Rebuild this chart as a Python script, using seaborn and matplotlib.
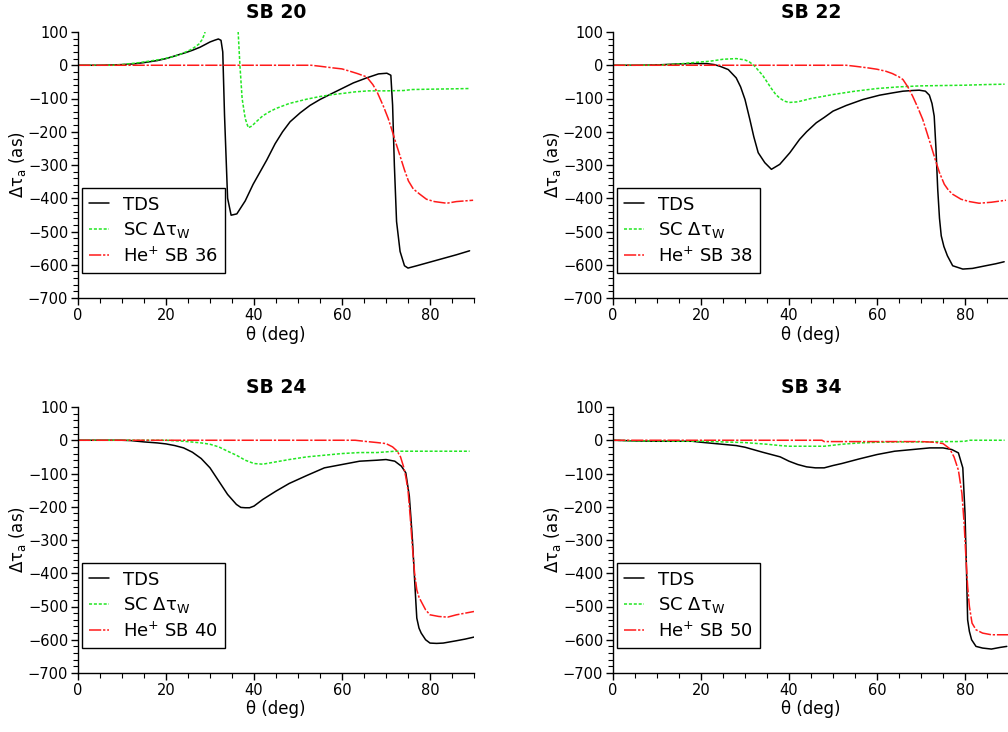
import numpy as np
import pandas as pd
import matplotlib
matplotlib.use("Agg")
import matplotlib.pyplot as plt
from matplotlib.ticker import MultipleLocator
import seaborn as sns

# ---- data (theta in deg, delay in as) ----
titles = ['SB 20', 'SB 22', 'SB 24', 'SB 34']
he_labels = ['He$^{+}$ SB 36', 'He$^{+}$ SB 38', 'He$^{+}$ SB 40', 'He$^{+}$ SB 50']

# SB 20
tds20_x = [0, 5, 8, 10, 12.6, 15, 18, 20, 22, 24.7, 26, 27.7, 29, 30, 31, 31.9, 32.5, 32.9, 33.3, 34, 34.8, 36.1, 38,
           39.8, 41.5, 42.9, 44.8, 46.5, 48.2, 50.5, 52.7, 55, 58, 60.3, 62.6, 65.6, 68.3, 70.2, 71.1, 71.5, 71.9, 72.4,
           73.2, 74.2, 75, 77, 80, 83, 86, 89]
tds20_y = [0, 0, 1, 2, 4, 8, 14, 20, 28, 39, 45, 54, 63, 70, 75, 79, 75, 40, -150, -400, -451, -447, -408,
           -358, -318, -285, -236, -200, -170, -143, -121, -103, -83, -68, -53, -38, -26, -24, -30, -120, -300, -470,
           -560, -603, -610, -603, -592, -581, -570, -558]
sc20_x = [0, 5, 8, 10, 14, 18, 20, 22, 24, 25.5, 26.5, 27.5, 28.2, 28.8, 29.3, 35.9, 36.4, 36.8, 37.3, 38, 38.7, 39.5,
          40.5, 42, 43.5, 45, 48, 52, 55, 58, 60, 63, 66, 70, 74, 76, 80, 85, 89]
sc20_y = [0, 0, 0, 2, 8, 16, 21, 27, 37, 46, 54, 64, 77, 95, 150, 150, 100, 0, -100, -160, -188, -183,
          -170, -152, -140, -130, -115, -102, -94, -88, -85, -80, -77, -77, -76, -73, -72, -71, -70]
he20_x = [0, 10, 20, 30, 40, 50, 53, 55, 58, 60, 61.8, 63.5, 65.6, 67, 67.9, 69.4, 70.5, 71.3, 72.2, 73.2, 74.2, 75.1,
          76.2, 77.7, 79.2, 81, 83.8, 86, 89.8]
he20_y = [0, 0, 0, 0, 0, 0, 0, -3, -8, -11, -18, -25, -35, -58, -78, -123, -160, -193, -232, -273, -315, -348,
          -372, -388, -403, -410, -415, -410, -406]

# SB 22
tds22_x = [0, 5, 10, 15, 18, 21.3, 23, 24.3, 26.2, 28, 29, 30, 31.1, 32, 33, 34.5, 36, 37.9, 40.2, 42.4, 44, 46.2, 48,
           50, 53, 56.8, 60.6, 63.6, 65.9, 68, 69.6, 71, 71.9, 72.5, 73, 73.4, 73.8, 74.2, 74.6, 75.2, 76, 77.2, 79.5,
           81.7, 84.7, 87, 88.9]
tds22_y = [0, 0, 1, 4, 5, 5, 2, -3, -13, -38, -65, -103, -163, -215, -263, -293, -313, -298, -263, -223, -200, -173,
           -157, -138, -121, -103, -90, -83, -78, -76, -75, -78, -90, -115, -153, -250, -373, -460, -513, -545, -573,
           -603, -613, -611, -603, -597, -591]
sc22_x = [0, 5, 10, 15, 20, 22, 25, 28, 30, 31, 32, 33, 34, 35, 36, 37, 38, 39, 40, 42, 45, 48, 50, 55, 60, 65, 70, 75,
          80, 85, 89]
sc22_y = [0, 0, 0, 4, 10, 12, 18, 20, 16, 10, 0, -15, -30, -50, -70, -88, -100, -108, -112, -110, -100, -93, -88,
          -78, -70, -65, -62, -61, -60, -58, -57]
he22_x = [0, 10, 20, 30, 40, 50, 53, 55, 58, 60, 62, 63.5, 65, 65.9, 67, 68.1, 69.2, 70.4, 71.4, 72.3, 73.2, 74.2,
          75.3, 76.2, 77.2, 79.1, 81, 83.2, 86, 89.3]
he22_y = [0, 0, 0, 0, 0, 0, 0, -3, -8, -12, -18, -25, -35, -43, -65, -93, -125, -163, -205, -243, -282, -323,
          -358, -375, -388, -403, -410, -415, -412, -406]

# SB 24
tds24_x = [0, 5, 10, 12, 15, 18, 20, 22, 24, 26, 28, 30, 32, 34, 36, 37, 38, 39, 40, 42, 45, 48, 52, 56, 60, 64, 68,
           70, 72, 73.5, 74.5, 75.3, 75.7, 76, 76.3, 76.5, 76.8, 77, 77.5, 78, 79, 80, 81.5, 83, 86, 88, 90]
tds24_y = [0, 0, 0, -1, -5, -8, -11, -16, -23, -36, -55, -83, -123, -163, -193, -202, -203, -203, -198, -178,
           -153, -130, -106, -83, -73, -63, -60, -58, -63, -78, -98, -168, -240, -298, -370, -419, -490, -535,
           -565, -580, -600, -610, -611, -610, -603, -598, -592]
sc24_x = [0, 5, 10, 15, 20, 24, 28, 30, 32, 34, 36, 38, 40, 42, 45, 48, 52, 56, 60, 64, 68, 72, 76, 80, 85, 89]
sc24_y = [0, 0, 0, 0, 0, -3, -8, -12, -20, -33, -45, -60, -70, -72, -65, -58, -50, -45, -40, -37, -37, -33, -33,
          -33, -33, -33]
he24_x = [0, 10, 20, 30, 40, 50, 60, 63, 65, 68, 70, 71.5, 72.5, 73.3, 74, 74.5, 75, 75.5, 76, 76.5, 77, 77.5, 78, 79,
          80, 82, 84, 86, 88, 90]
he24_y = [0, 0, 0, 0, 0, 0, 0, 0, -3, -7, -10, -20, -32, -50, -80, -110, -150, -230, -320, -400, -450, -472,
          -485, -510, -525, -530, -532, -525, -520, -515]

# SB 34
tds34_x = [0, 5, 10, 15, 18, 20, 24, 28, 30, 34, 38, 40, 42, 44, 46, 48, 50, 52, 56, 60, 64, 68, 72, 75, 77, 78.5,
           79.5, 80, 80.3, 80.6, 81, 81.5, 82.5, 84, 86, 88, 89.5]
tds34_y = [0, -2, -3, -3, -3, -6, -11, -16, -21, -36, -50, -63, -73, -80, -83, -83, -76, -70, -56, -43, -33, -28,
           -23, -23, -28, -38, -83, -219, -369, -540, -575, -600, -620, -625, -628, -623, -620]
sc34_x = [0, 5, 10, 15, 20, 25, 30, 35, 38, 40, 45, 48, 50, 52, 56, 60, 65, 70, 75, 78, 80, 81, 85, 89]
sc34_y = [0, -2, -2, -3, -3, -5, -7, -12, -16, -18, -18, -18, -15, -12, -8, -6, -5, -5, -4, -4, -3, 0, 0, 0]
he34_x = [0, 10, 20, 30, 40, 46, 47.5, 48, 55, 60, 70, 73, 75, 76.5, 77.5, 78.5, 79.3, 79.8, 80.2, 80.6, 81, 81.6,
          82.5, 84, 86, 90]
he34_y = [0, 0, 0, 0, 0, 0, 0, -4, -4, -4, -4, -6, -10, -25, -50, -90, -160, -250, -350, -440, -500, -550, -570,
          -580, -585, -585]

panels = [
    (tds20_x, tds20_y, sc20_x, sc20_y, he20_x, he20_y),
    (tds22_x, tds22_y, sc22_x, sc22_y, he22_x, he22_y),
    (tds24_x, tds24_y, sc24_x, sc24_y, he24_x, he24_y),
    (tds34_x, tds34_y, sc34_x, sc34_y, he34_x, he34_y),
]

sns.set_style("ticks")
plt.rcParams['font.family'] = ['DejaVu Sans']
plt.rcParams['mathtext.fontset'] = 'dejavusans'
plt.rcParams['text.color'] = 'black'
plt.rcParams['axes.labelcolor'] = 'black'
plt.rcParams['xtick.color'] = 'black'
plt.rcParams['ytick.color'] = 'black'

fig = plt.figure(figsize=(10.08, 7.32), dpi=100)
W, H = 1008, 732
boxes = [(78, 32), (613, 32), (78, 407), (613, 407)]  # left, top in px

for i, (bx, by) in enumerate(boxes):
    ax = fig.add_axes([bx / W, 1 - (by + 266) / H, 396 / W, 266 / H])
    tx, ty, sx, sy, hx, hy = panels[i]
    sns.lineplot(x=tx, y=ty, ax=ax, color='black', lw=1.1, sort=False, estimator=None, label='TDS')
    sns.lineplot(x=sx, y=sy, ax=ax, color='#22e622', lw=1.1, sort=False, estimator=None,
                 linestyle=(0, (2, 1.2)), label='SC $\\mathregular{\\Delta\\tau_W}$')
    sns.lineplot(x=hx, y=hy, ax=ax, color='#ff1a1a', lw=1.1, sort=False, estimator=None,
                 linestyle=(0, (8, 1.2, 1.5, 1.2)), label=he_labels[i])
    ax.set_xlim(0, 90)
    ax.set_ylim(-700, 100)
    ax.xaxis.set_major_locator(MultipleLocator(20))
    ax.xaxis.set_minor_locator(MultipleLocator(5))
    ax.yaxis.set_major_locator(MultipleLocator(100))
    ax.yaxis.set_minor_locator(MultipleLocator(20))
    ax.tick_params(which='major', length=5, width=1, labelsize=10.5, colors='black', pad=2)
    ax.tick_params(which='minor', length=3.5, width=0.8)
    sns.despine(ax=ax)
    for sp in ['left', 'bottom']:
        ax.spines[sp].set_color('black')
        ax.spines[sp].set_linewidth(1)
    ax.set_xlabel('θ (deg)', fontsize=12, labelpad=2)
    ax.set_ylabel('$\\mathregular{\\Delta\\tau_a}$ (as)', fontsize=12, labelpad=0)
    ax.set_title(titles[i], fontsize=13.5, fontweight='bold', pad=10, color='black')
    leg = ax.legend(loc='lower left', bbox_to_anchor=(0.01, 0.095), fontsize=13, frameon=True, fancybox=False,
                    handlelength=1.1, handletextpad=0.8, borderpad=0.4, labelspacing=0.35, borderaxespad=0)
    leg.get_frame().set_edgecolor('black')
    leg.get_frame().set_linewidth(1)
    leg.get_frame().set_alpha(1)

fig.savefig('out.png', dpi=100)
